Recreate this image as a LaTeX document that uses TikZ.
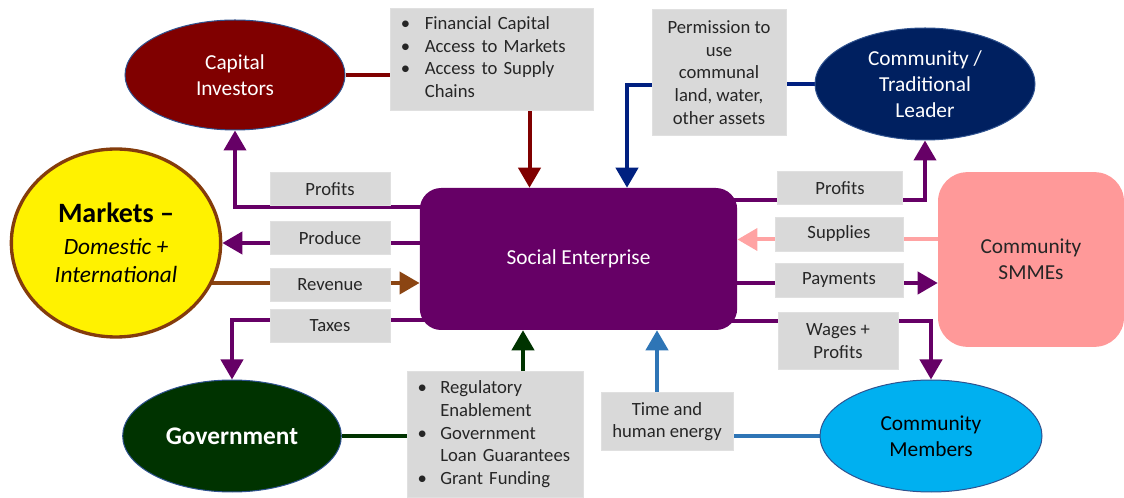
\documentclass[tikz,border=0pt]{standalone}
\usepackage{fontspec}
\setmainfont{Carlito}
\usepackage{tikz}
\usetikzlibrary{arrows.meta,shapes.geometric,calc,backgrounds}

\definecolor{sepurple}{HTML}{660066}
\definecolor{cired}{HTML}{800000}
\definecolor{tlnavy}{HTML}{002060}
\definecolor{navyline}{HTML}{002080}
\definecolor{gvgreen}{HTML}{003300}
\definecolor{mbblue}{HTML}{00B0F0}
\definecolor{smpink}{HTML}{FF9999}
\definecolor{pinkline}{HTML}{FFA3A3}
\definecolor{mkbrown}{HTML}{843C0C}
\definecolor{revbrown}{HTML}{8B4513}
\definecolor{timeblue}{HTML}{2E75B6}
\definecolor{ovalline}{HTML}{2F528F}
\definecolor{taggray}{HTML}{D9D9D9}

\begin{document}
\begin{tikzpicture}[x=0.75pt,y=-0.75pt,
  every node/.style={font=\fontsize{14}{17}\selectfont,text=black!85},
  oval/.style={ellipse,draw=ovalline,line width=0.75pt,inner sep=0pt,align=center,
    font=\fontsize{16}{19.5}\selectfont},
  tag/.style={rectangle,fill=taggray,draw=black!12,line width=0.5pt,inner sep=0pt,align=center},
  link/.style={line width=3pt},
  flow/.style={line width=3pt,-{Triangle[length=15pt,width=16.5pt]}}]
  \useasboundingbox (0,0) rectangle (1124,498);

  \node[oval,fill=cired,text=white,minimum width=165pt,minimum height=82.5pt] (CI) at (235,75) {Capital\\Investors};
  \node[oval,fill=tlnavy,text=white,minimum width=165pt,minimum height=84pt] (TL) at (925,84) {Community /\\Traditional\\Leader};
  \node[ellipse,draw=mkbrown,line width=2.5pt,fill=yellow,inner sep=0pt,align=center,text=black,
    minimum width=157pt,minimum height=141pt,font=\fontsize{17.5}{21}\selectfont] (MK) at (116,243)
    {{\fontsize{21}{25}\selectfont\bfseries Markets –}\\[3pt]{\itshape Domestic +}\\{\itshape International}};
  \node[rectangle,rounded corners=16pt,fill=sepurple,text=white,minimum width=238pt,minimum height=106.5pt,
    font=\fontsize{16}{19.5}\selectfont] (SE) at (578.5,259) {Social Enterprise};
  \node[rectangle,rounded corners=22pt,fill=smpink,minimum width=139.5pt,minimum height=131pt,align=center,
    font=\fontsize{16}{19.5}\selectfont] (SM) at (1031,259.5) {Community\\SMMEs};
  \node[oval,fill=mbblue,text=black,minimum width=166.5pt,minimum height=84pt] (MB) at (931,436) {Community\\Members};
  \node[oval,fill=gvgreen,text=white,minimum width=164pt,minimum height=84pt,
    font=\fontsize{19}{23}\selectfont\bfseries] (GV) at (232,436) {Government};

  \node[tag,align=left,text width=136pt,inner xsep=8pt,minimum height=76.5pt] (fin) at (491.5,59)
    {\begin{tabular}{@{}l@{\hspace{11pt}}l@{}}
      \textbullet & Financial Capital\\
      \textbullet & Access to Markets\\
      \textbullet & Access to Supply\\
                  & Chains
    \end{tabular}};
  \node[tag,minimum width=100.5pt,minimum height=94pt] (perm) at (719,72.5)
    {Permission to\\use\\communal\\land, water,\\other assets};
  \node[tag,align=left,text width=116pt,inner xsep=8pt,minimum height=94pt] (reg) at (495,434.5)
    {\begin{tabular}{@{}l@{\hspace{10pt}}l@{}}
      \textbullet & Regulatory\\
                  & Enablement\\
      \textbullet & Government\\
                  & Loan Guarantees\\
      \textbullet & Grant Funding
    \end{tabular}};
  \node[tag,minimum width=99pt,minimum height=43pt] (time) at (667,421.5) {Time and\\human energy};

  \begin{scope}[on background layer]
    \draw[link,cired] (CI.east) -- (CI.east -| fin.west);
    \draw[flow,cired] ($(fin.south)+(38,0)$) coordinate (a) -- (a |- SE.north);
    \draw[link,navyline] (TL.west) -- (TL.west -| perm.east);
    \draw[flow,navyline] ($(perm.west)+(0,12.5)$) -| ($(SE.north)+(48.5,0)$);
    \draw[flow,sepurple] ($(SE.center)+(0,-52)$) -| (CI.south);
    \draw[flow,sepurple] (SE.center |- MK.east) -- (MK.east);
    \draw[flow,revbrown] ($(MK.center)+(0,40)$) coordinate (r) -- (r -| SE.west);
    \draw[flow,sepurple] ($(SE.center)+(0,61)$) -| (GV.north);
    \draw[flow,sepurple] ($(SE.center)+(0,-59)$) -| (TL.south);
    \draw[flow,pinkline] ($(SM.center)+(0,-20)$) coordinate (s) -- (s -| SE.east);
    \draw[flow,sepurple] ($(SE.center)+(0,24)$) coordinate (p) -- (p -| SM.west);
    \draw[flow,sepurple] ($(SE.center)+(0,62)$) -| (MB.north);
    \draw[flow,timeblue] ($(time.north)+(-10,0)$) coordinate (t) -- (t |- SE.south);
    \draw[link,timeblue] (MB.west -| time.east) -- (MB.west);
    \draw[link,gvgreen] (GV.east) -- (GV.east -| reg.west);
    \draw[flow,gvgreen] ($(reg.north)+(28,0)$) coordinate (g) -- (g |- SE.south);
  \end{scope}

  \node[tag,minimum width=90pt,minimum height=25pt] (profitsL) at (330,189) {Profits};
  \node[tag,minimum width=90pt,minimum height=25pt] (produce) at (330,238) {Produce};
  \node[tag,minimum width=90pt,minimum height=25pt] (revenue) at (330,285) {Revenue};
  \node[tag,minimum width=90pt,minimum height=25pt] (taxes) at (330,326) {Taxes};
  \node[tag,minimum width=94pt,minimum height=25pt] (profitsR) at (840,188) {Profits};
  \node[tag,minimum width=96pt,minimum height=25.5pt] (supplies) at (839,234) {Supplies};
  \node[tag,minimum width=96pt,minimum height=25.5pt] (payments) at (839,280) {Payments};
  \node[tag,minimum width=90pt,minimum height=43pt] (wages) at (838,341) {Wages +\\Profits};
\end{tikzpicture}
\end{document}
